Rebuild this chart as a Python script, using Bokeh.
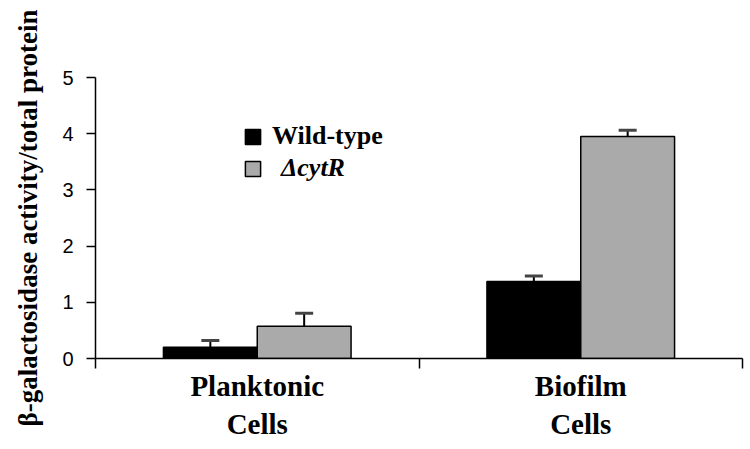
import numpy as np
from bokeh.plotting import figure
from bokeh.models import (ColumnDataSource, Range1d, FixedTicker, Whisker, TeeHead,
                          Legend, LegendItem)
from bokeh.embed import file_html
from bokeh.resources import INLINE

categories = ["Planktonic\nCells", "Biofilm\nCells"]
series = ["Wild-type", "\u0394cytR"]
wild_type = [0.20, 1.37]
wild_type_err = [0.12, 0.10]
cytR = [0.575, 3.95]
cytR_err = [0.23, 0.11]
y_ticks = [0, 1, 2, 3, 4, 5]

SANS = "Liberation Sans"
SERIF = "Liberation Serif"

centers = np.arange(len(categories)) + 0.5
bounds = list(np.arange(len(categories) + 1).astype(float))
bar_w = 0.29
off = 0.145

p = figure(width=750, height=449, x_range=Range1d(0, len(categories)), y_range=Range1d(0, 5),
           output_backend="svg", toolbar_location=None,
           min_border_left=95, min_border_right=8, min_border_top=77, min_border_bottom=91)
p.outline_line_color = None
p.xgrid.visible = False
p.ygrid.visible = False

src_wt = ColumnDataSource(dict(x=centers - off, top=wild_type,
                               upper=np.array(wild_type) + np.array(wild_type_err)))
src_cy = ColumnDataSource(dict(x=centers + off, top=cytR,
                               upper=np.array(cytR) + np.array(cytR_err)))

r_wt = p.vbar(x="x", top="top", width=bar_w, source=src_wt,
              fill_color="black", line_color="black", line_width=1.5)
r_cy = p.vbar(x="x", top="top", width=bar_w, source=src_cy,
              fill_color="#aaaaaa", line_color="black", line_width=1.5)

for src in (src_wt, src_cy):
    w = Whisker(source=src, base="x", lower="top", upper="upper",
                lower_head=None,
                upper_head=TeeHead(size=18, line_width=3, line_color="#444444"),
                line_width=2, line_color="black")
    p.add_layout(w)

ya = p.yaxis[0]
ya.ticker = FixedTicker(ticks=y_ticks)
ya.major_tick_out = 9
ya.major_tick_in = 0
ya.minor_tick_out = 0
ya.minor_tick_in = 0
ya.axis_line_width = 1.5
ya.major_tick_line_width = 1.5
ya.major_label_text_font = SANS
ya.major_label_text_font_size = "20px"
ya.major_label_text_color = "black"
ya.major_label_standoff = 13
ya.axis_label = "\u03b2-galactosidase activity/total protein"
ya.axis_label_text_font = SERIF
ya.axis_label_text_font_style = "bold"
ya.axis_label_text_font_size = "27px"
ya.axis_label_text_color = "black"
ya.axis_label_standoff = 16

xa = p.xaxis[0]
xa.ticker = FixedTicker(ticks=list(centers), minor_ticks=bounds)
xa.major_label_overrides = {float(c): lab for c, lab in zip(centers, categories)}
xa.major_tick_out = 0
xa.major_tick_in = 0
xa.minor_tick_out = 10
xa.minor_tick_in = 0
xa.minor_tick_line_width = 1.5
xa.minor_tick_line_color = "black"
xa.axis_line_width = 1.5
xa.major_label_text_font = SERIF
xa.major_label_text_font_style = "bold"
xa.major_label_text_font_size = "29px"
xa.major_label_text_color = "black"
xa.major_label_text_line_height = 1.2
xa.major_label_standoff = 1

def make_legend(label, renderer, loc, style, standoff):
    lg = Legend(items=[LegendItem(label=label, renderers=[renderer])], location=loc,
                glyph_width=19, glyph_height=19, label_height=19,
                label_standoff=standoff, padding=0, margin=0, spacing=0,
                border_line_alpha=0, background_fill_alpha=0,
                label_text_font=SERIF, label_text_font_style=style,
                label_text_font_size="26px", label_text_color="black")
    p.add_layout(lg)

make_legend(series[0], r_wt, (148, 207), "bold", 10)
make_legend(series[1], r_cy, (148, 175), "bold italic", 19)

open("out.html", "w").write(file_html(p, INLINE))
